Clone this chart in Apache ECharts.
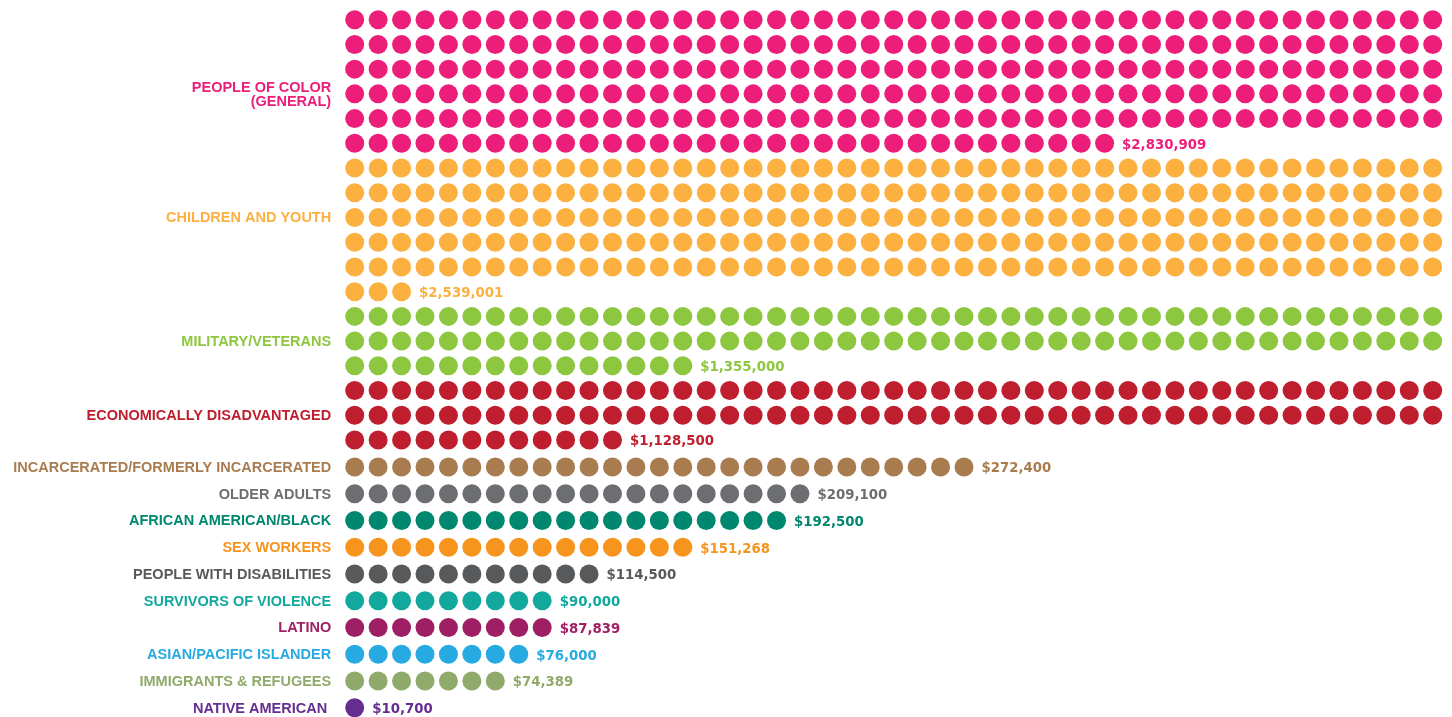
<!DOCTYPE html>
<html>
<head>
<meta charset="utf-8">
<script src="https://cdn.jsdelivr.net/npm/echarts@6/dist/echarts.min.js"></script>
<style>
  html, body { margin: 0; padding: 0; background: #fff; }
  #chart { width: 1452px; height: 717px; }
</style>
</head>
<body>
<div id="chart"></div>
<script>
// one dot per roughly $10,000; dot counts as drawn in the original
var categories = ['PEOPLE OF COLOR\n(GENERAL)', 'CHILDREN AND YOUTH', 'MILITARY/VETERANS', 'ECONOMICALLY DISADVANTAGED',
    'INCARCERATED/FORMERLY INCARCERATED', 'OLDER ADULTS', 'AFRICAN AMERICAN/BLACK', 'SEX WORKERS',
    'PEOPLE WITH DISABILITIES', 'SURVIVORS OF VIOLENCE', 'LATINO', 'ASIAN/PACIFIC ISLANDER',
    'IMMIGRANTS & REFUGEES', 'NATIVE AMERICAN '];
var amounts = [2830909, 2539001, 1355000, 1128500, 272400, 209100, 192500, 151268, 114500, 90000, 87839, 76000, 74389, 10700];
var dots = [268, 238, 109, 106, 27, 20, 19, 15, 11, 9, 9, 8, 7, 1];
var nameRow = [3, 2, 1, 1, 0, 0, 0, 0, 0, 0, 0, 0, 0, 0];
var colors = ['#ED1E79', '#FBB040', '#8DC63F', '#BE1E2D', '#A97C50', '#6D6E71', '#00876F', '#F7941D',
    '#58595B', '#13A89E', '#9E1F63', '#27AAE1', '#8FAA6A', '#662D91'];

var perRow = 47;
var nameFont = { fontFamily: 'Liberation Sans', fontWeight: 'bold', fontSize: 14.5 };
var valueFont = { fontFamily: 'DejaVu Sans', fontWeight: 'bold', fontSize: 13.3 };

var series = [];
var nameData = [[], []];
var rowCursor = [0, 0];

categories.forEach(function (name, i) {
    var rows = Math.ceil(dots[i] / perRow);
    var g = rows > 1 ? 0 : 1;
    var start = rowCursor[g];
    var data = [];
    for (var k = 0; k < dots[i]; k++) {
        var item = { value: [k % perRow, start + Math.floor(k / perRow)] };
        if (k === dots[i] - 1) {
            item.label = {
                show: true, position: 'right', distance: 8, offset: [0, 2],
                formatter: '$' + amounts[i].toLocaleString('en-US'),
                color: colors[i], fontFamily: valueFont.fontFamily,
                fontWeight: valueFont.fontWeight, fontSize: valueFont.fontSize
            };
        }
        data.push(item);
    }
    nameData[g].push({
        value: [0, start + nameRow[i]],
        label: { formatter: name, color: colors[i] }
    });
    rowCursor[g] += rows;
    series.push({
        type: 'scatter', xAxisIndex: g, yAxisIndex: g,
        symbol: 'circle', symbolSize: 19,
        itemStyle: { color: colors[i], opacity: 1 },
        data: data
    });
});

[0, 1].forEach(function (g) {
    series.push({
        type: 'scatter', xAxisIndex: g, yAxisIndex: g,
        symbolSize: 1, itemStyle: { color: 'transparent', opacity: 1 },
        label: {
            show: true, position: 'left', distance: 23, offset: [0, 1],
            align: 'right', lineHeight: 14,
            fontFamily: nameFont.fontFamily, fontWeight: nameFont.fontWeight, fontSize: nameFont.fontSize
        },
        data: nameData[g]
    });
});

var hiddenX = { type: 'value', min: 0, max: perRow - 1, show: false };
var chart = echarts.init(document.getElementById('chart'));
chart.setOption({
    animation: false,
    grid: [
        { left: 354.7, width: 1078, top: 19.7, height: 420.3 },
        { left: 354.7, width: 1078, top: 467, height: 240.7 }
    ],
    xAxis: [Object.assign({ gridIndex: 0 }, hiddenX), Object.assign({ gridIndex: 1 }, hiddenX)],
    yAxis: [
        { type: 'value', gridIndex: 0, inverse: true, min: 0, max: rowCursor[0] - 1, show: false },
        { type: 'value', gridIndex: 1, inverse: true, min: 0, max: rowCursor[1] - 1, show: false }
    ],
    series: series
});
</script>
</body>
</html>
